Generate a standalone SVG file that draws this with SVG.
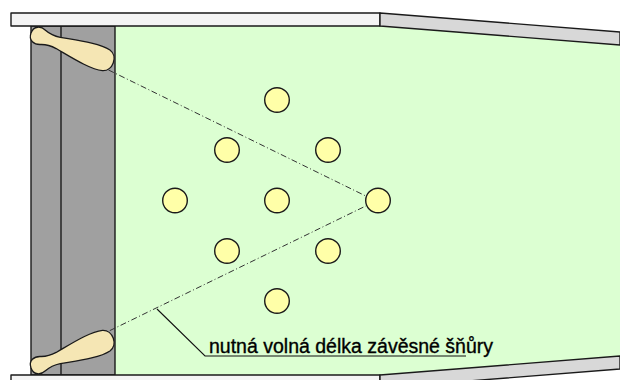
<svg xmlns="http://www.w3.org/2000/svg" width="620" height="380" viewBox="0 0 620 380">
  <defs>
    <style>
      .edge { stroke: #1a1a1a; stroke-width: 1.4; stroke-linejoin: round; }
      .bar { fill: #f4f4f4; }
      .band { fill: #d8d8d8; }
      .floor { fill: #dcffd2; }
      .post { fill: #a0a0a0; }
      .handle { fill: #f5e6b4; stroke: #1a1a1a; stroke-width: 1.3; }
      .ring { fill: #ffffa8; stroke: #1a1a1a; stroke-width: 1.4; }
      .cord { fill: none; stroke: #333; stroke-width: 1; stroke-dasharray: 6 2.5 1 2.5; }
      .lead { fill: none; stroke: #111; stroke-width: 1.1; }
      .label { font-family: "Liberation Sans", Arial, sans-serif; font-size: 19.5px; fill: #000; stroke: #000; stroke-width: 0.35; }
    </style>
    <!-- bobbin-shaped handle, drawn along +x from its knob tip -->
    <path id="bobbin" d="M0,0 C0,-8 7,-10 13,-7.5 C18,-5.5 22,-5 29,-6 C46,-9 68,-14 80,-11 C90,-8 90,8 80,11 C68,14 46,9 29,6 C22,5 18,5.5 13,7.5 C7,10 0,8 0,0 Z"/>
  </defs>

  <!-- background structure -->
  <g id="frame">
    <polygon class="floor" points="115,26 380,26 620,45 620,356 380,375 115,375"/>
    <rect class="post edge" x="31" y="26" width="84" height="349"/>
    <line class="edge" x1="61" y1="26" x2="61" y2="375"/>
    <rect class="bar edge" x="11" y="13" width="369" height="13"/>
    <polygon class="band edge" points="380,13 620,32 620,45 380,26"/>
    <rect class="bar edge" x="11" y="375" width="369" height="13"/>
    <polygon class="band edge" points="380,388 620,369 620,356 380,375"/>
  </g>

  <!-- cords and leader line -->
  <g id="connectors">
    <polyline class="cord" points="33,33 376,201 33,368"/>
    <polyline class="lead" points="373,199 378,201 373,203.5"/>
    <polyline class="lead" points="157,309 205,356 466,356"/>
  </g>

  <g id="handle-top">
    <use href="#bobbin" class="handle" transform="translate(31,33) rotate(20)"/>
  </g>
  <g id="handle-bottom">
    <use href="#bobbin" class="handle" transform="translate(31,368) rotate(-20)"/>
  </g>

  <g id="rings">
    <circle id="ring-1" class="ring" cx="277" cy="100" r="12.3"/>
    <circle id="ring-2" class="ring" cx="227" cy="150" r="12.3"/>
    <circle id="ring-3" class="ring" cx="328" cy="150" r="12.3"/>
    <circle id="ring-4" class="ring" cx="175" cy="200.5" r="12.3"/>
    <circle id="ring-5" class="ring" cx="277" cy="200.5" r="12.3"/>
    <circle id="ring-6" class="ring" cx="378" cy="200.5" r="12.3"/>
    <circle id="ring-7" class="ring" cx="227" cy="251" r="12.3"/>
    <circle id="ring-8" class="ring" cx="328" cy="251" r="12.3"/>
    <circle id="ring-9" class="ring" cx="277" cy="301" r="12.3"/>
  </g>

  <g id="caption">
    <text class="label" x="209" y="353">nutná volná délka závěsné šňůry</text>
  </g>
</svg>
